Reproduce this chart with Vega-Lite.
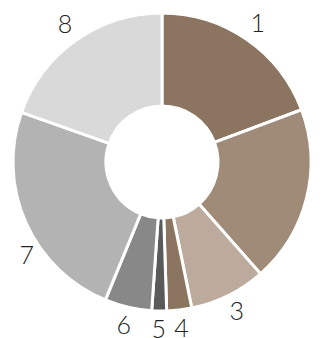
{
  "$schema": "https://vega.github.io/schema/vega-lite/v6.json",
  "width": 318,
  "height": 324,
  "autosize": {"type": "none"},
  "padding": {"left": 3, "right": 0, "top": 0, "bottom": 14},
  "background": "white",
  "data": {
    "values": [
      {"k": 1, "label": "1", "value": 19.3},
      {"k": 2, "label": "2", "value": 19.2},
      {"k": 3, "label": "3", "value": 8.3},
      {"k": 4, "label": "4", "value": 2.7},
      {"k": 5, "label": "5", "value": 1.6},
      {"k": 6, "label": "6", "value": 5.1},
      {"k": 7, "label": "7", "value": 24.2},
      {"k": 8, "label": "8", "value": 19.6}
    ]
  },
  "encoding": {
    "theta": {"field": "value", "type": "quantitative", "stack": true},
    "order": {"field": "k", "type": "quantitative"}
  },
  "layer": [
    {
      "mark": {"type": "arc", "radius": 149, "radius2": 56, "stroke": "white", "strokeWidth": 3},
      "encoding": {
        "color": {
          "field": "label",
          "type": "nominal",
          "scale": {
            "domain": ["1", "2", "3", "4", "5", "6", "7", "8"],
            "range": ["#8b7460", "#a08b78", "#bcab9c", "#8b7460", "#5a5a5a", "#888888", "#b3b3b3", "#d9d9d9"]
          },
          "legend": null
        }
      }
    },
    {
      "mark": {
        "type": "text",
        "radius": 168,
        "fontSize": 25,
        "font": "Lato",
        "fontWeight": 300,
        "color": "#222222",
        "align": "center",
        "baseline": "middle",
        "dx": {"expr": "datum.label === '7' ? 18 : (datum.label === '2' ? 3 : 0)"},
        "dy": {"expr": "datum.label === '7' ? 25 : (datum.label === '2' ? 9 : 0)"}
      },
      "encoding": {
        "text": {"field": "label", "type": "nominal"}
      }
    }
  ],
  "config": {"view": {"stroke": null}}
}
